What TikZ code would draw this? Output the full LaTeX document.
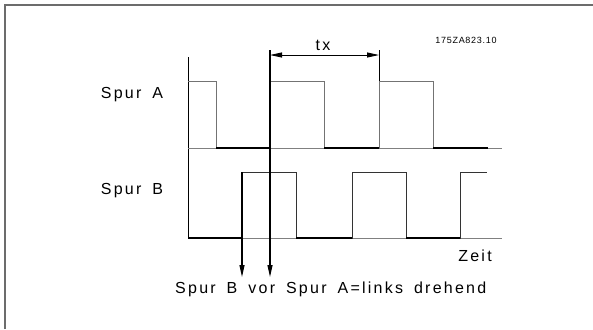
\documentclass[tikz,border=0pt]{standalone}
\usepackage{fontspec}
\setmainfont{Liberation Sans}[LetterSpace=14]
\newfontfamily\smallfont{Liberation Sans}[LetterSpace=8]
\usetikzlibrary{arrows.meta}
\begin{document}
\begin{tikzpicture}[x=1bp,y=-1bp,
  frame/.style={draw=gray!85!black, line width=1.5bp},
  base/.style={draw=gray, line width=0.8bp},
  sig/.style={draw=black!80, line width=0.9bp},
  low/.style={draw=black, line width=1.5bp},
  markarrow/.style={draw=black, line width=1.1bp, -{Triangle[length=12bp,width=5bp]}},
  dimarrow/.style={draw=black, line width=0.9bp, {Triangle[length=12bp,width=5bp]}-{Triangle[length=12bp,width=5bp]}},
  lbl/.style={font=\fontsize{16bp}{18bp}\selectfont, inner sep=0pt}]
\useasboundingbox (0,0) rectangle (593,329);
% frame
\draw[frame] (5,329) -- (5,5) -- (593,5);
% axis
\draw[black, line width=0.8bp] (188,57) -- (188,238);
% baselines
\draw[base] (188,148) -- (502,148);
\draw[base] (188,238) -- (502,238);
% Spur A signal
\draw[sig, draw=gray!90!black] (188,81) -- (216,81) -- (216,148) -- (270,148) -- (270,81) -- (324,81) -- (324,148) -- (379,148) -- (379,81) -- (433,81) -- (433,148) -- (488,148);
\draw[low] (216,148) -- (270,148);
\draw[low] (324,148) -- (379,148);
\draw[low] (433,148) -- (488,148);
% Spur B signal
\draw[sig] (188,238) -- (242,238) -- (242,172) -- (296,172) -- (296,238) -- (352,238) -- (352,172) -- (406,172) -- (406,238) -- (460,238) -- (460,172) -- (487,172);
\draw[low] (188,238) -- (242,238);
\draw[low] (296,238) -- (352,238);
\draw[low] (406,238) -- (460,238);
% markers
\coordinate (mAtop) at (270,50);
\coordinate (mAend) at (270,277);
\coordinate (mBtop) at (242,172);
\coordinate (mBend) at (242,277);
\coordinate (ext) at (379,50);
\coordinate (extb) at (379,81);
\coordinate (dL) at (270,55);
\coordinate (dR) at (379,55);
\draw[markarrow] (mAtop) -- (mAend);
\draw[markarrow] (mBtop) -- (mBend);
\draw[black, line width=0.9bp] (ext) -- (extb);
\draw[dimarrow] (dL) -- (dR);
% labels
\node[lbl] (la) at (132,95) {Spur\hspace{11bp}A};
\node[lbl] (lb) at (132,191) {Spur\hspace{11bp}B};
\node[lbl] (tx) at (323,45) {tx};
\node[lbl] (zeit) at (475,256) {Zeit};
\node[lbl, anchor=west] (txt) at (175,289) {Spur\hspace{11bp}B\hspace{11bp}vor\hspace{11bp}Spur\hspace{11bp}A=links\hspace{11bp}drehend};
\node[inner sep=0pt, font=\smallfont\fontsize{9bp}{11bp}\selectfont] (id) at (466,40) {175ZA823.10};
\end{tikzpicture}
\end{document}
